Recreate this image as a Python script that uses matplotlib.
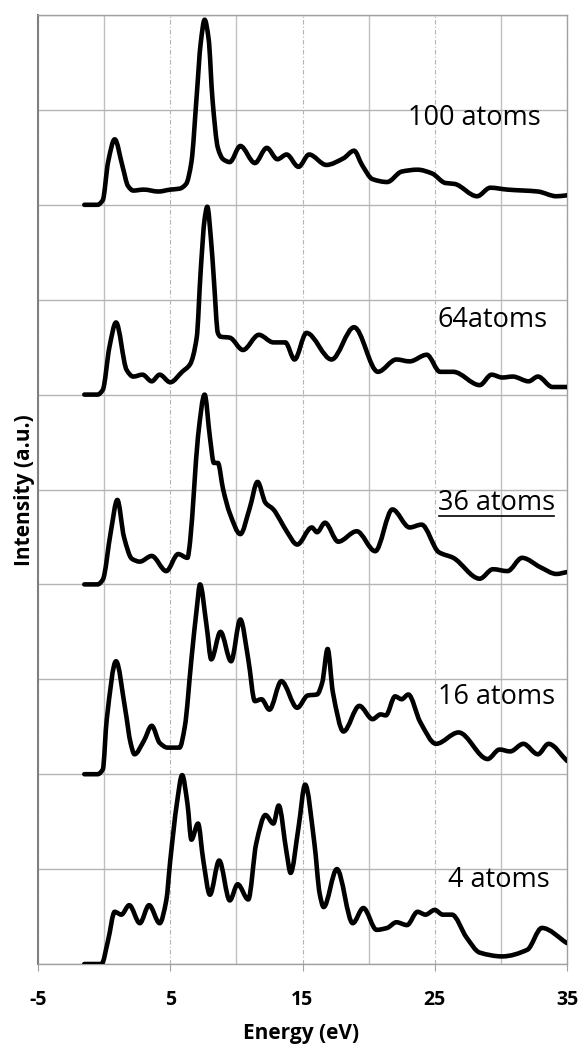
import matplotlib
matplotlib.use("Agg")
import matplotlib.pyplot as plt
from matplotlib.lines import Line2D
from matplotlib.path import Path
from matplotlib.patches import PathPatch

plt.rcParams['font.family'] = ['Open Sans', 'DejaVu Sans']
plt.rcParams['axes.unicode_minus'] = False

# spectra for each cluster size: energy (eV) and normalised intensity
energy_100 = [-1.5, -0.5, -0.1, 0.3, 0.8, 1.4, 1.8, 2.2, 3.0, 4.1, 5.0, 5.7, 6.2, 6.6, 7.0, 7.3,
              7.6, 7.9, 8.2, 8.6, 9.0, 9.5, 10.3, 11.4, 12.3, 13.1, 13.8, 14.7, 15.5, 16.8, 18.1,
              18.9, 19.5, 20.3, 21.4, 22.5, 23.7, 24.8, 25.8, 26.5, 28.2, 29.2, 30.5, 32.8, 34.2, 35.0]
intensity_100 = [0, 0, 0.05, 0.45, 0.69, 0.4, 0.2, 0.15, 0.16, 0.14, 0.16, 0.17, 0.22, 0.45, 1.15, 1.7,
                 1.95, 1.75, 1.1, 0.6, 0.48, 0.45, 0.62, 0.44, 0.6, 0.48, 0.53, 0.4, 0.53, 0.42, 0.49,
                 0.57, 0.42, 0.27, 0.24, 0.35, 0.37, 0.33, 0.23, 0.22, 0.09, 0.18, 0.16, 0.14, 0.09, 0.1]

energy_64 = [-1.5, -0.5, -0.1, 0.4, 0.9, 1.7, 2.2, 2.9, 3.6, 4.2, 5.0, 5.9, 6.5, 7.0, 7.3, 7.6, 7.8,
             8.1, 8.3, 8.6, 8.8, 9.5, 10.5, 11.7, 12.8, 13.7, 14.4, 15.3, 17.2, 18.9, 20.7, 22.1,
             23.1, 24.4, 25.4, 26.4, 28.4, 29.3, 30.1, 30.9, 32.1, 32.8, 33.9, 35.0]
intensity_64 = [0, 0, 0.05, 0.5, 0.76, 0.26, 0.19, 0.21, 0.14, 0.21, 0.13, 0.24, 0.32, 0.6, 1.3, 1.85, 1.98,
                1.6, 1.21, 0.65, 0.61, 0.6, 0.47, 0.63, 0.55, 0.55, 0.37, 0.65, 0.37, 0.71, 0.24, 0.37,
                0.35, 0.42, 0.24, 0.24, 0.1, 0.21, 0.18, 0.19, 0.14, 0.19, 0.08, 0.08]

energy_36 = [-1.5, -0.5, -0.1, 0.5, 1.0, 1.5, 2.1, 2.7, 3.6, 4.7, 5.6, 6.3, 6.5, 6.8, 7.1, 7.6, 8.0,
             8.3, 8.6, 9.0, 9.5, 10.3, 11.0, 11.6, 12.2, 12.8, 13.3, 13.8, 14.6, 15.7, 16.1, 16.7,
             17.7, 19.1, 20.5, 21.8, 23.1, 24.0, 25.3, 26.4, 28.4, 29.4, 30.5, 31.6, 33.0, 34.2, 35.0]
intensity_36 = [0, 0, 0.05, 0.55, 0.89, 0.5, 0.27, 0.24, 0.3, 0.14, 0.32, 0.28, 0.45, 1.0, 1.56, 2.0, 1.55,
                1.28, 1.28, 1.0, 0.75, 0.53, 0.8, 1.08, 0.86, 0.79, 0.68, 0.56, 0.42, 0.6, 0.55, 0.65,
                0.45, 0.56, 0.35, 0.79, 0.6, 0.63, 0.34, 0.28, 0.06, 0.16, 0.14, 0.28, 0.18, 0.11, 0.13]

energy_16 = [-1.5, -0.5, -0.1, 0.2, 0.9, 1.6, 2.0, 2.3, 3.0, 3.6, 4.2, 4.8, 5.7, 6.1, 6.6, 7.0, 7.25,
             7.75, 8.1, 8.8, 9.6, 10.3, 10.9, 11.4, 11.9, 12.5, 13.4, 14.6, 15.4, 16.1, 16.5, 16.9,
             17.3, 18.1, 19.3, 20.3, 20.9, 21.3, 22.0, 22.5, 23.0, 23.9, 25.1, 26.8, 29.0, 29.9,
             30.7, 31.7, 32.8, 33.6, 35.0]
intensity_16 = [0, 0, 0.05, 0.58, 1.19, 0.68, 0.33, 0.21, 0.35, 0.51, 0.33, 0.28, 0.28, 0.5, 1.21, 1.74, 2.0,
                1.56, 1.21, 1.5, 1.19, 1.63, 1.21, 0.77, 0.79, 0.68, 0.98, 0.7, 0.83, 0.84, 0.97, 1.32,
                0.86, 0.45, 0.72, 0.58, 0.63, 0.62, 0.82, 0.79, 0.84, 0.55, 0.32, 0.44, 0.16, 0.26,
                0.24, 0.32, 0.21, 0.32, 0.14]

energy_4 = [-1.5, -0.2, 0.3, 0.8, 1.3, 1.9, 2.7, 3.4, 4.2, 4.7, 5.0, 5.5, 5.9, 6.3, 6.6, 7.1, 7.5, 8.0,
            8.7, 9.5, 10.1, 10.9, 11.5, 12.2, 12.8, 13.2, 13.8, 14.1, 14.7, 15.2, 15.9, 16.3, 16.6,
            17.6, 18.8, 19.6, 20.6, 21.4, 22.1, 22.9, 23.7, 24.3, 25.0, 25.6, 26.3, 27.4, 28.4,
            30.1, 32.0, 33.1, 35.0]
intensity_4 = [0, 0, 0.25, 0.55, 0.52, 0.62, 0.43, 0.62, 0.43, 0.67, 1.09, 1.69, 1.99, 1.69, 1.31, 1.48, 1.09,
               0.73, 1.09, 0.67, 0.84, 0.68, 1.27, 1.57, 1.48, 1.67, 1.17, 0.96, 1.44, 1.89, 1.27, 0.74,
               0.6, 1.0, 0.43, 0.59, 0.36, 0.38, 0.44, 0.41, 0.55, 0.52, 0.57, 0.52, 0.52, 0.28, 0.12,
               0.08, 0.15, 0.38, 0.22]

labels = ['100 atoms', '64atoms', '36 atoms', '16 atoms', '4 atoms']
label_x = [23.0, 25.2, 25.25, 25.25, 26.0]
label_y = [0.91, 0.79, 0.86, 0.81, 0.885]

spectra = [(energy_100, intensity_100), (energy_64, intensity_64), (energy_36, intensity_36),
           (energy_16, intensity_16), (energy_4, intensity_4)]


def smooth_path(xs, ys):
    # monotone cubic (pchip-like) Bezier through the points, no overshoot
    n = len(xs)
    d = [(ys[i + 1] - ys[i]) / (xs[i + 1] - xs[i]) for i in range(n - 1)]
    m = [0.0] * n
    m[0], m[-1] = d[0], d[-1]
    for i in range(1, n - 1):
        if d[i - 1] * d[i] <= 0:
            m[i] = 0.0
        else:
            m[i] = 2.0 / (1.0 / d[i - 1] + 1.0 / d[i])
    verts = [(xs[0], ys[0])]
    codes = [Path.MOVETO]
    for i in range(n - 1):
        h = xs[i + 1] - xs[i]
        verts += [(xs[i] + h / 3, ys[i] + m[i] * h / 3),
                  (xs[i + 1] - h / 3, ys[i + 1] - m[i + 1] * h / 3),
                  (xs[i + 1], ys[i + 1])]
        codes += [Path.CURVE4] * 3
    return Path(verts, codes)


fig = plt.figure(figsize=(5.82, 10.46), dpi=100)
ax = fig.add_axes([38 / 582, 1 - 964 / 1046, 529 / 582, 949 / 1046])

n = len(spectra)
for i, (e, v) in enumerate(spectra):
    offset = 2 * (n - 1 - i)
    ax.add_patch(PathPatch(smooth_path(e, [y + offset for y in v]), fill=False,
                           edgecolor='black', lw=3.3, joinstyle='round',
                           capstyle='round', zorder=3))

ax.set_xlim(-5, 35)
ax.set_ylim(0, 2 * n)
ax.set_xticks([-5, 5, 15, 25, 35])
ax.set_xticks([0, 10, 20, 30], minor=True)
ax.set_yticks(range(0, 2 * n + 1))
ax.set_yticklabels([])
ax.tick_params(axis='y', length=0)
ax.tick_params(axis='x', which='major', length=5, color='#a0a0a0', pad=14,
               labelsize=14)
ax.tick_params(axis='x', which='minor', length=0)
for t in ax.get_xticklabels():
    t.set_fontweight('bold')

ax.grid(axis='y', color='#b4b4b4', lw=1.0)
ax.grid(axis='x', which='major', color='#b4b4b4', lw=0.8, linestyle=(0, (4, 2, 1, 2)))
ax.grid(axis='x', which='minor', color='#c0c0c0', lw=1.0)
ax.set_axisbelow(True)

for side in ['top', 'right', 'bottom']:
    ax.spines[side].set_color('#a0a0a0')
    ax.spines[side].set_linewidth(1.0)
ax.spines['left'].set_color('#808080')
ax.spines['left'].set_linewidth(1.5)

ax.set_xlabel('Energy (eV)', fontsize=15, fontweight='bold')
ax.set_ylabel('Intensity (a.u.)', fontsize=15, fontweight='bold')
ax.xaxis.set_label_coords(0.497, -0.062)
ax.yaxis.set_label_coords(-0.006, 0.4995)

texts = []
for i, lab in enumerate(labels):
    offset = 2 * (n - 1 - i)
    texts.append(ax.text(label_x[i], label_y[i] + offset, lab, fontsize=19.5,
                         ha='left', va='center', zorder=4))

# underline the 36-atom label
fig.canvas.draw()
bb = texts[2].get_window_extent()
x0, y0 = fig.transFigure.inverted().transform((bb.x0 + 1, bb.y0 + 1))
x1, _ = fig.transFigure.inverted().transform((bb.x1 - 1, bb.y0 + 1))
fig.add_artist(Line2D([x0, x1], [y0, y0], color='black', lw=1.2, transform=fig.transFigure))

fig.savefig('out.png', dpi=100)
